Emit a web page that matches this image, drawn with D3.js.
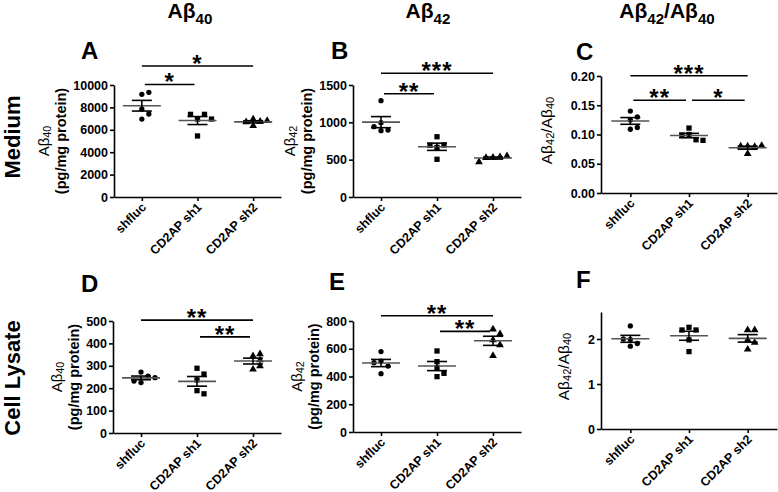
<!DOCTYPE html>
<html><head><meta charset="utf-8">
<script src="https://cdn.jsdelivr.net/npm/d3@7"></script>
<style>body{margin:0;background:#fff} text{font-family:Arial,"Liberation Sans",sans-serif;fill:#000}</style>
</head><body><svg id="c" width="778" height="492"></svg>
<script>
// ---------- DATA ----------
const groups = ["shfluc", "CD2AP sh1", "CD2AP sh2"];
const shapes = ["circle", "square", "triangle"];
const columnTitles = ["Aβ40", "Aβ42", "Aβ42/Aβ40"];
const rowTitles = ["Medium", "Cell Lysate"];
const panelLetters = ["A", "B", "C", "D", "E", "F"];

const mediumAb40 = [[9170, 7860, 6960, 9350, 7410], [6960, 5450, 7380, 7380, 6960], [6950, 6750, 6700, 6800, 6350]];
const mediumAb42 = [[1290, 995, 888, 897, 942], [807, 665, 505, 696, 692], [530, 535, 525, 550, 470]];
const mediumRatio = [[0.140, 0.125, 0.109, 0.130, 0.112], [0.111, 0.100, 0.091, 0.099, 0.090], [0.080, 0.079, 0.080, 0.081, 0.067]];
const lysateAb40 = [[272, 225, 254, 232, 247], [289, 263, 237, 189, 175], [344, 353, 326, 284, 299]];
const lysateAb42 = [[580, 510, 420, 475, 500], [584, 507, 463, 423, 399], [740, 706, 663, 627, 550]];
const lysateRatio = [[2.29, 1.99, 1.84, 1.90, 2.00], [2.26, 2.20, 2.20, 1.98, 1.72], [2.20, 2.20, 1.98, 1.92, 1.77]];

const yMax = [10000, 1500, 0.20, 500, 800, 2.6];
const yTicksA = [0, 2000, 4000, 6000, 8000, 10000];
const yTicksB = [0, 500, 1000, 1500];
const yTicksC = [0, 0.05, 0.10, 0.15, 0.20];
const yTicksD = [0, 100, 200, 300, 400, 500];
const yTicksE = [0, 200, 400, 600, 800];
const yTicksF = [0, 1, 2];

const yLabelsAD = ["Aβ40", "(pg/mg protein)"];
const yLabelsBE = ["Aβ42", "(pg/mg protein)"];
const yLabelsCF = ["Aβ42/Aβ40"];

// significance brackets: [group i, group j, label, height in data units]
const bracketsA = [[0, 1, "*", 10050], [0, 2, "*", 11700]];
const bracketsB = [[0, 1, "**", 1383], [0, 2, "***", 1657]];
const bracketsC = [[0, 1, "**", 0.1585], [1, 2, "*", 0.1585], [0, 2, "***", 0.2005]];
const bracketsD = [[0, 2, "**", 504], [1, 2, "**", 429]];
const bracketsE = [[0, 2, "**", 838], [1, 2, "**", 725]];
const bracketsF = [];

// ---------- LAYOUT ----------
const layout = [
  {x0: 114, x1: 281, yT: 85, yB: 197, lx: 81, ly: 59},
  {x0: 353, x1: 521, yT: 85, yB: 197, lx: 331, ly: 59},
  {x0: 601, x1: 777, yT: 76, yB: 193, lx: 576, ly: 60},
  {x0: 113, x1: 281, yT: 321, yB: 433, lx: 81, ly: 292},
  {x0: 353, x1: 521, yT: 321, yB: 432, lx: 329, ly: 290},
  {x0: 601, x1: 777, yT: 312, yB: 429, lx: 576, ly: 288}
];
const colTitlePos = [[190, 18], [428, 18], [667, 18]];
const rowTitlePos = [[20, 137], [20, 378]];

const panels = [
  {data: mediumAb40, ticks: yTicksA, fmt: d3.format("d"), label: yLabelsAD, br: bracketsA},
  {data: mediumAb42, ticks: yTicksB, fmt: d3.format("d"), label: yLabelsBE, br: bracketsB},
  {data: mediumRatio, ticks: yTicksC, fmt: d3.format(".2f"), label: yLabelsCF, br: bracketsC},
  {data: lysateAb40, ticks: yTicksD, fmt: d3.format("d"), label: yLabelsAD, br: bracketsD},
  {data: lysateAb42, ticks: yTicksE, fmt: d3.format("d"), label: yLabelsBE, br: bracketsE},
  {data: lysateRatio, ticks: yTicksF, fmt: d3.format("d"), label: yLabelsCF, br: bracketsF}
];

const svg = d3.select("#c");
const FONT = 'Arial, "Liberation Sans", sans-serif';

function rich(text, str, size) {
  const parts = str.split(/(\d+)/).filter(s => s.length);
  let shifted = false;
  parts.forEach(p => {
    const isSub = /^\d+$/.test(p);
    const t = text.append("tspan").text(p);
    if (isSub) {
      t.attr("font-size", size * 0.72);
      if (!shifted) t.attr("dy", size * 0.28);
      shifted = true;
    } else if (shifted) {
      t.attr("dy", -size * 0.28);
      shifted = false;
    }
  });
}

// column titles
columnTitles.forEach((t, i) => {
  const tx = svg.append("text").attr("x", colTitlePos[i][0]).attr("y", colTitlePos[i][1])
    .attr("text-anchor", "middle").attr("font-size", 21).attr("font-weight", "bold");
  rich(tx, t, 21);
});
// row titles
rowTitles.forEach((t, i) => {
  svg.append("text").attr("transform", `translate(${rowTitlePos[i][0]},${rowTitlePos[i][1]}) rotate(-90)`)
    .attr("text-anchor", "middle").attr("font-size", 22).attr("font-weight", "bold").text(t);
});

const symGen = {
  circle: d3.symbol().type(d3.symbolCircle).size(22),
  square: d3.symbol().type(d3.symbolSquare).size(28),
  triangle: d3.symbol().type(d3.symbolTriangle).size(26)
};

panels.forEach((p, k) => {
  const L = layout[k];
  const g = svg.append("g");
  const x = d3.scalePoint().domain(groups).range([L.x0, L.x1]).padding(0.5);
  const y = d3.scaleLinear().domain([0, yMax[k]]).range([L.yB, L.yT]);

  // y axis
  const ya = g.append("g").attr("transform", `translate(${L.x0},0)`)
    .call(d3.axisLeft(y).tickValues(p.ticks).tickFormat(p.fmt).tickSize(4).tickSizeOuter(0).tickPadding(2));
  ya.select(".domain").attr("stroke", "#000").attr("stroke-width", 1.6);
  ya.selectAll(".tick line").attr("stroke", "#000").attr("stroke-width", 1.6);
  ya.selectAll(".tick text").attr("font-size", 12.5).attr("font-weight", "bold").attr("font-family", FONT).attr("fill", "#000");
  let tickLeft = Infinity;
  ya.selectAll(".tick text").each(function () {
    const b = this.getBBox();
    tickLeft = Math.min(tickLeft, L.x0 + b.x);
  });

  // x axis
  const xa = g.append("g").attr("transform", `translate(0,${L.yB})`)
    .call(d3.axisBottom(x).tickSize(4).tickSizeOuter(0).tickFormat(""));
  xa.select(".domain").attr("stroke", "#000").attr("stroke-width", 1.6);
  xa.selectAll(".tick line").attr("stroke", "#000").attr("stroke-width", 1.6);
  groups.forEach(gr => {
    g.append("text").attr("transform", `translate(${x(gr) + 5},${L.yB + 11}) rotate(-45)`)
      .attr("text-anchor", "end").attr("font-size", 12.5).attr("font-weight", "bold").text(gr);
  });

  // y label
  const midY = (L.yT + L.yB) / 2;
  if (p.label.length === 2) {
    const t1 = g.append("text").attr("transform", `translate(${tickLeft - 30},${midY}) rotate(-90)`)
      .attr("text-anchor", "middle").attr("dominant-baseline", "central").attr("font-size", 15);
    rich(t1, p.label[0], 15);
    g.append("text").attr("transform", `translate(${tickLeft - 12},${midY}) rotate(-90)`)
      .attr("text-anchor", "middle").attr("dominant-baseline", "central").attr("font-size", 14.5)
      .attr("font-weight", "bold").text(p.label[1]);
  } else {
    const t1 = g.append("text").attr("transform", `translate(${tickLeft - 25},${midY - 4}) rotate(-90)`)
      .attr("text-anchor", "middle").attr("dominant-baseline", "central").attr("font-size", 15.5);
    rich(t1, p.label[0], 15.5);
  }

  // panel letter
  svg.append("text").attr("x", L.lx).attr("y", L.ly).attr("font-size", 24).attr("font-weight", "bold").text(panelLetters[k]);

  // points with collision-based horizontal spread
  const d = 7, minDist = 6;
  p.data.forEach((vals, gi) => {
    const cx = x(groups[gi]);
    const placed = [];
    vals.forEach(v => {
      const py = y(v);
      const cands = [0, d, -d, 2 * d, -2 * d, 3 * d, -3 * d];
      let off = 0;
      for (const c of cands) {
        if (placed.every(q => Math.hypot(q[0] - c, q[1] - py) >= minDist)) { off = c; break; }
      }
      placed.push([off, py]);
      g.append("path").attr("d", symGen[shapes[gi]]()).attr("fill", "#000")
        .attr("transform", `translate(${cx + off},${py})`);
    });
    const m = d3.mean(vals), se = d3.deviation(vals) / Math.sqrt(vals.length);
    g.append("line").attr("x1", cx - 19).attr("x2", cx + 19).attr("y1", y(m)).attr("y2", y(m))
      .attr("stroke", "#555").attr("stroke-width", 1.6);
    g.append("line").attr("x1", cx).attr("x2", cx).attr("y1", y(m + se)).attr("y2", y(m - se))
      .attr("stroke", "#000").attr("stroke-width", 1.6);
    [m + se, m - se].forEach(v => g.append("line").attr("x1", cx - 10).attr("x2", cx + 10)
      .attr("y1", y(v)).attr("y2", y(v)).attr("stroke", "#000").attr("stroke-width", 1.6));
  });

  // brackets
  p.br.forEach(([i, j, lab, h]) => {
    const inset = (j - i === 1) ? 3 : 0;
    const xa1 = x(groups[i]) + inset, xa2 = x(groups[j]) - inset, by = y(h);
    g.append("line").attr("x1", xa1).attr("x2", xa2).attr("y1", by).attr("y2", by)
      .attr("stroke", "#000").attr("stroke-width", 1.6);
    g.append("text").attr("x", (xa1 + xa2) / 2).attr("y", by + 6).attr("text-anchor", "middle")
      .attr("font-size", 24).attr("font-weight", "bold").attr("letter-spacing", 1).text(lab);
  });
});
</script></body></html>
